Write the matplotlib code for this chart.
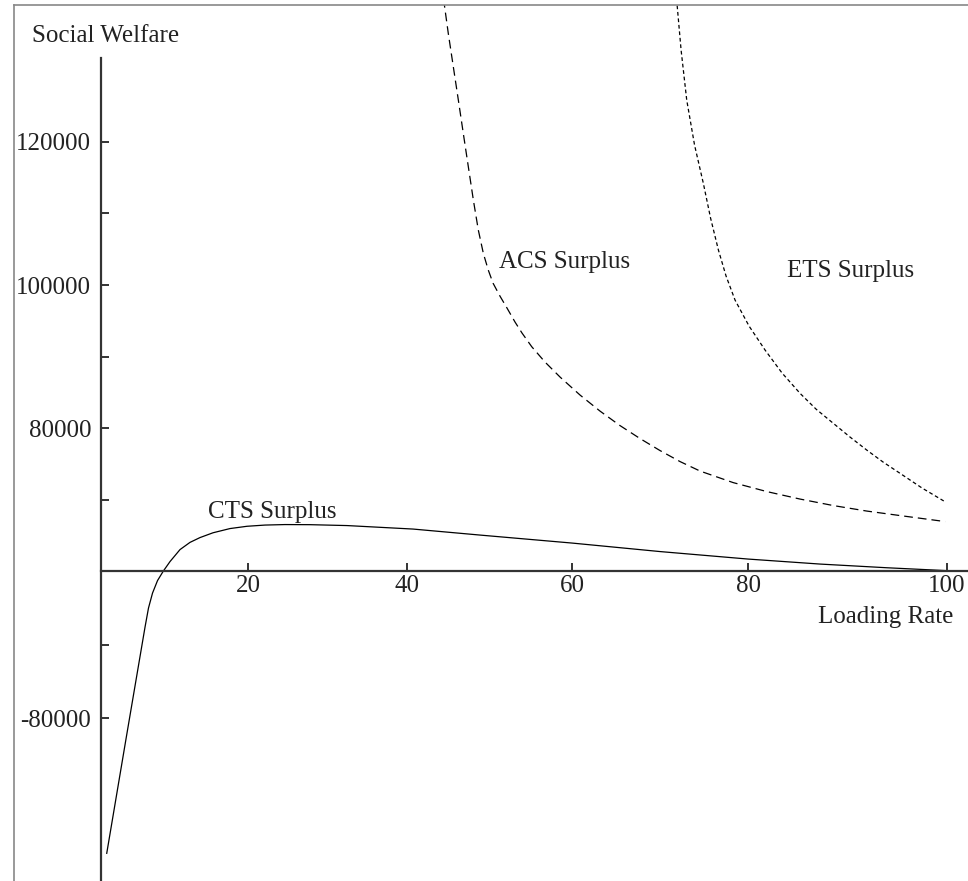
import numpy as np
import matplotlib
matplotlib.use('Agg')
import matplotlib.pyplot as plt
from matplotlib.lines import Line2D

plt.rcParams['font.family'] = ['Liberation Serif', 'DejaVu Serif']
plt.rcParams['font.size'] = 18

# curves (loading rate, social welfare)
cts_x = [0.78, 3.40, 5.99, 6.46, 7.01, 7.69, 8.48, 9.39, 10.75, 12.11, 13.47,
         15.24, 17.55, 19.86, 22.14, 24.65, 27.8, 32.45, 40.73, 48.85, 60.0,
         70.0, 80.0, 87.24, 93.97, 99.8]
cts_y = [-153630, -91430, -30480, -20140, -11970, -5170, 0, 5330, 12050,
         16090, 18780, 21470, 23830, 25110, 25790, 26070, 26010, 25510,
         23550, 20180, 15700, 10930, 6730, 3920, 1850, 280]

acs_x = [44.3, 45.0, 45.61, 46.22, 46.82, 47.43, 48.04, 48.64, 49.25, 49.85,
         50.42, 51.27, 52.12, 53.09, 53.94, 55.12, 56.73, 58.55, 60.91, 63.18,
         65.45, 67.73, 70.0, 72.27, 74.55, 78.3, 81.88, 85.23, 88.57, 91.93,
         95.28, 99.8]
acs_y = [141000, 135130, 130470, 125820, 121170, 116510, 111860, 107680,
         104420, 102090, 100280, 98450, 96790, 94840, 93300, 91390, 89250,
         87160, 84650, 82410, 80390, 74280, 67550, 61390, 56060, 49610, 44570,
         40360, 36720, 33640, 31110, 27750]

ets_x = [71.8, 72.39, 73.03, 73.92, 74.92, 75.74, 76.63, 77.5, 78.52, 80.1,
         81.71, 83.42, 85.23, 86.83, 88.57, 90.25, 91.93, 93.57, 95.28, 97.49,
         99.8]
ets_y = [141000, 132800, 125820, 119540, 114190, 109350, 104890, 101260,
         97910, 94280, 90930, 87720, 84880, 82690, 80700, 75120, 67830, 61110,
         54770, 46530, 38850]

x_ticks = [20, 40, 60, 80, 100]
y_ticks = [-80000, -40000, 40000, 80000, 90000, 100000, 110000, 120000]
y_labels = ['-80000', '', '', '80000', '', '100000', '', '120000']

# the original axes are not evenly spaced: piecewise scales
XB = [-100, 0, 20, 40, 60, 80, 100, 200]
XP = [-634, 0, 147, 306, 471, 647, 846, 1841]
YB = [-400000, -80000, 0, 80000, 120000, 400000]
YP = [-425, 163, 310, 452.7, 739.3, 2745.5]


def fx(v):
    return np.interp(v, XB, XP)


def fx_inv(v):
    return np.interp(v, XP, XB)


def fy(v):
    return np.interp(v, YB, YP)


def fy_inv(v):
    return np.interp(v, YP, YB)


fig = plt.figure(figsize=(9.68, 8.81), dpi=100)
ax = fig.add_axes([101 / 968, 0, 1 - 101 / 968, 1 - 5 / 881])
ax.set_xscale('function', functions=(fx, fx_inv))
ax.set_yscale('function', functions=(fy, fy_inv))

ax.plot(cts_x, cts_y, color='black', lw=0.9)
ax.plot(acs_x, acs_y, color='black', lw=0.9, dashes=(7, 4))
ax.plot(ets_x, ets_y, color='black', lw=0.9, dashes=(3, 2.2))

ax.set_xlim(0, 102.1)
ax.set_ylim(-168700, 139100)

for s in ['top', 'right']:
    ax.spines[s].set_visible(False)
ax.spines['bottom'].set_position(('data', 0))
ax.spines['left'].set_bounds(-168700, 131700)
for s in ['left', 'bottom']:
    ax.spines[s].set_color('#333333')
    ax.spines[s].set_linewidth(1.6)

ax.set_xticks(x_ticks)
ax.set_xticklabels([str(t) for t in x_ticks])
ax.set_yticks(y_ticks)
ax.set_yticklabels(y_labels)
ax.tick_params(axis='both', direction='in', length=6, width=1.4,
               color='#333333', labelcolor='#222222')
ax.tick_params(axis='x', pad=3)
ax.tick_params(axis='y', pad=7)
ax.minorticks_off()


def ftext(px, py, s, **kw):
    fig.text(px / 968, 1 - py / 881, s, va='baseline', color='#222222', **kw)


ftext(32, 42, 'Social Welfare')
ftext(208, 518, 'CTS Surplus')
ftext(499, 268, 'ACS Surplus')
ftext(787, 277, 'ETS Surplus')
ftext(818, 623, 'Loading Rate')

# thin page frame on the left and top
fig.add_artist(Line2D([14 / 968, 14 / 968], [0, 1 - 5 / 881], color='#888888', lw=1.2))
fig.add_artist(Line2D([14 / 968, 1], [1 - 5 / 881, 1 - 5 / 881], color='#888888', lw=1.2))

fig.savefig('out.png', dpi=100)
